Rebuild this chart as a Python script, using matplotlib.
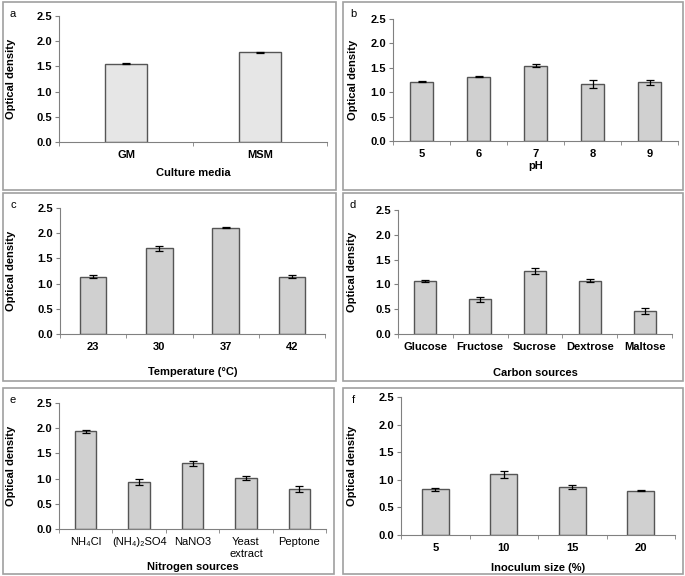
import matplotlib
matplotlib.use("Agg")
import matplotlib.pyplot as plt
import numpy as np
from matplotlib.patches import Rectangle

plt.rcParams['font.family'] = ['Liberation Sans Narrow', 'Liberation Sans', 'DejaVu Sans']

W, H = 685, 576

# data
media = ['GM', 'MSM']
media_od = [1.55, 1.78]
media_err = [0.01, 0.01]

ph = ['5', '6', '7', '8', '9']
ph_od = [1.21, 1.32, 1.54, 1.17, 1.20]
ph_err = [0.01, 0.01, 0.03, 0.08, 0.05]

temp = ['23', '30', '37', '42']
temp_od = [1.14, 1.70, 2.11, 1.14]
temp_err = [0.03, 0.05, 0.01, 0.03]

carbon = ['Glucose', 'Fructose', 'Sucrose', 'Dextrose', 'Maltose']
carbon_od = [1.06, 0.70, 1.27, 1.07, 0.47]
carbon_err = [0.02, 0.05, 0.06, 0.03, 0.06]

nitrogen = ['NH\u2084Cl', '(NH\u2084)\u2082SO4', 'NaNO3', 'Yeast\nextract', 'Peptone']
nitrogen_od = [1.94, 0.94, 1.30, 1.02, 0.80]
nitrogen_err = [0.03, 0.06, 0.05, 0.04, 0.06]

inoc = ['5', '10', '15', '20']
inoc_od = [0.83, 1.10, 0.87, 0.80]
inoc_err = [0.03, 0.06, 0.03, 0.01]

fig = plt.figure(figsize=(W / 100, H / 100), dpi=100)


def fx(x):
    return x / W


def fy(y):
    return 1 - y / H


def panel(box, ax_px, cats, vals, errs, letter, xlabel, xlab_y, ylab_x,
          color='#d0d0d0', width=0.4, tick_bold=True):
    x0, y0, x1, y1 = box
    fig.patches.append(Rectangle((fx(x0), fy(y1)), fx(x1 - x0), (y1 - y0) / H,
                                 transform=fig.transFigure, fill=False,
                                 edgecolor='#a0a0a0', linewidth=1.2))
    ax0, ay0, ax1, ay1 = ax_px
    ax = fig.add_axes([fx(ax0), fy(ay1), fx(ax1 - ax0), (ay1 - ay0) / H])
    n = len(cats)
    xs = np.arange(n)
    ax.bar(xs, vals, width=width, color=color, edgecolor='#555555', linewidth=1.0, zorder=2)
    ax.errorbar(xs, vals, yerr=errs, fmt='none', ecolor='black', elinewidth=0.9,
                capsize=3, capthick=0.9, zorder=3)
    ax.set_xlim(-0.5, n - 0.5)
    ax.set_ylim(0, 2.5)
    ax.set_yticks(np.arange(0, 2.51, 0.5))
    ax.set_yticklabels(['%.1f' % v for v in np.arange(0, 2.51, 0.5)],
                       fontsize=8, fontweight='bold')
    ax.set_xticks(xs)
    ax.set_xticklabels(cats, fontsize=8,
                       fontweight='bold' if tick_bold else 'normal')
    ax.set_xticks(np.arange(n + 1) - 0.5, minor=True)
    ax.tick_params(axis='x', which='major', length=0, pad=6)
    ax.tick_params(axis='x', which='minor', length=3, color='#808080')
    ax.tick_params(axis='y', length=3, color='#808080', pad=2)
    for s in ['top', 'right']:
        ax.spines[s].set_visible(False)
    ax.spines['left'].set_color('#808080')
    ax.spines['bottom'].set_color('#808080')
    fig.text(fx(x0 + 10), fy(y0 + 12), letter, fontsize=8, ha='center', va='center')
    fig.text(fx((ax0 + ax1) / 2), fy(xlab_y), xlabel, fontsize=8,
             fontweight='bold', ha='center', va='center')
    fig.text(fx(ylab_x), fy((ay0 + ay1) / 2), 'Optical density', fontsize=8,
             fontweight='bold', rotation=90, ha='center', va='center')
    return ax


panel((3, 2, 336, 190), (59, 16, 327, 142), media, media_od, media_err,
      'a', 'Culture media', 173, 11, color='#e6e6e6', width=0.32)
panel((343, 2, 683, 190), (393, 19, 678, 141), ph, ph_od, ph_err,
      'b', 'pH', 166, 353)
panel((3, 193, 336, 381), (60, 208, 325, 334), temp, temp_od, temp_err,
      'c', 'Temperature (\u00b0C)', 372, 11)
panel((343, 193, 683, 381), (398, 210, 672, 334), carbon, carbon_od, carbon_err,
      'd', 'Carbon sources', 373, 352)
panel((3, 388, 334, 574), (59, 403, 326, 529), nitrogen, nitrogen_od, nitrogen_err,
      'e', 'Nitrogen sources', 567, 11, tick_bold=False)
panel((343, 388, 683, 574), (401, 397, 675, 535), inoc, inoc_od, inoc_err,
      'f', 'Inoculum size (%)', 568, 352)

fig.savefig('out.png', dpi=100)
